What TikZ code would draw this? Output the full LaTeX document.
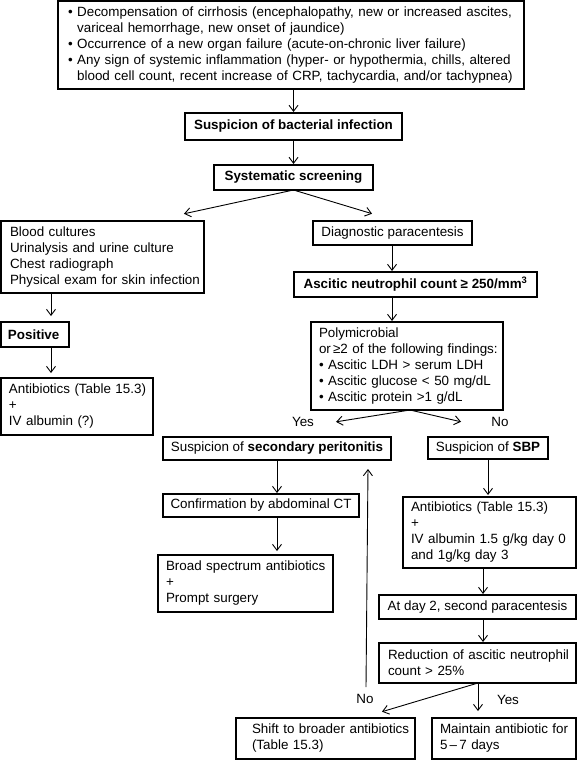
\documentclass[tikz,border=0pt]{standalone}
\usepackage{fontspec}
\setmainfont{Liberation Sans}
\usetikzlibrary{arrows.meta,calc}
\newcommand\mln[1]{\mbox{#1}}
\newcommand\bul{\textbullet\ }
\newcommand\ind{\phantom{\textbullet\ }}
\begin{document}
\begin{tikzpicture}[x=1pt,y=-1pt,
  bx/.style={draw, line width=1.3pt, anchor=north west, outer sep=0pt,
    inner ysep=0pt, font=\fontsize{13.4}{16}\selectfont},
  bl/.style={bx, align=left},
  bc/.style={bx, align=center},
  arr/.style={line width=0.9pt, shorten >=1pt, -{Straight Barb[length=6pt,width=9pt,line width=0.9pt]}},
  lab/.style={font=\fontsize{13.4}{16}\selectfont, inner sep=0pt}]
\useasboundingbox (0,0) rectangle (577,760);

\node[bl, minimum width=466pt, minimum height=88pt, text width=446pt, inner xsep=10pt] (top) at (58,1)
 {\mln{\bul Decompensation of cirrhosis (encephalopathy, new or increased ascites,}\\
  \mln{\ind variceal hemorrhage, new onset of jaundice)}\\
  \mln{\bul Occurrence of a new organ failure (acute-on-chronic liver failure)}\\
  \mln{\bul Any sign of systemic inflammation (hyper- or hypothermia, chills, altered}\\
  \mln{\ind blood cell count, recent increase of CRP, tachycardia, and/or tachypnea)}};

\node[bc, minimum width=217pt, minimum height=27pt] (bact) at (185,113) {\textbf{Suspicion of bacterial infection}};
\node[bc, minimum width=159pt, minimum height=25pt] (screen) at (214,165) {\textbf{Systematic screening}};

\node[bl, minimum width=203pt, minimum height=72pt, text width=185pt, inner xsep=9pt] (list) at (1,221)
 {\mln{Blood cultures}\\ \mln{Urinalysis and urine culture}\\ \mln{Chest radiograph}\\ \mln{Physical exam for skin infection}};
\node[bl, minimum width=68pt, minimum height=25pt, text width=54pt, inner xsep=7pt] (pos) at (1,322) {\textbf{Positive}};
\node[bl, minimum width=152pt, minimum height=57pt, text width=136pt, inner xsep=8pt] (abl) at (1,378)
 {\mln{Antibiotics (Table 15.3)}\\ +\\ \mln{IV albumin (?)}};

\node[bc, minimum width=159pt, minimum height=24pt] (para) at (313,221) {Diagnostic paracentesis};
\node[bc, minimum width=243pt, minimum height=25pt] (asc) at (294,272) {\textbf{Ascitic neutrophil count ≥ 250/mm\textsuperscript{3}}};
\node[bl, minimum width=192pt, minimum height=88pt, text width=176pt, inner xsep=8pt] (poly) at (311,322)
 {\mln{Polymicrobial}\\ \mln{or\,≥2 of the following findings:}\\ \mln{\bul Ascitic LDH > serum LDH}\\
  \mln{\bul Ascitic glucose < 50 mg/dL}\\ \mln{\bul Ascitic protein >1 g/dL}};

\node[bc, minimum width=228pt, minimum height=23pt] (sec) at (163,437) {Suspicion of \textbf{secondary peritonitis}};
\node[bc, minimum width=120pt, minimum height=22pt] (sbp) at (428,437) {Suspicion of \textbf{SBP}};

\node[bc, minimum width=196pt, minimum height=23pt] (ct) at (163,494) {Confirmation by abdominal CT};
\node[bl, minimum width=175pt, minimum height=57pt, text width=159pt, inner xsep=8pt] (broad) at (158,555)
 {\mln{Broad spectrum antibiotics}\\ +\\ \mln{Prompt surgery}};

\node[bl, minimum width=173pt, minimum height=71pt, text width=157pt, inner xsep=8pt] (abr) at (403,497)
 {\mln{Antibiotics (Table 15.3)}\\ +\\ \mln{IV albumin 1.5 g/kg day 0}\\ \mln{and 1g/kg day 3}};
\node[bc, minimum width=197pt, minimum height=24pt] (day2) at (379,595) {At day 2, second paracentesis};
\node[bl, minimum width=197pt, minimum height=40pt, text width=179pt, inner xsep=9pt] (red) at (379,643)
 {\mln{Reduction of ascitic neutrophil}\\ \mln{count > 25\%}};

\node[bl, minimum width=179pt, minimum height=41pt, text width=147pt, inner xsep=16pt] (shift) at (236,718)
 {\mln{Shift to broader antibiotics}\\ \mln{(Table 15.3)}};
\node[bl, minimum width=144pt, minimum height=41pt, text width=128pt, inner xsep=8pt] (main) at (432,718)
 {\mln{Maintain antibiotic for}\\ \mln{5\,–\,7 days}};

% arrows
\coordinate (lA) at (51,293);
\coordinate (pA) at (392,245);
\coordinate (cA) at (277,460);
\coordinate (sA) at (488,460);
\coordinate (dA) at (483,569);
\draw[arr] (bact.north |- top.south) -- (bact.north);
\draw[arr] (bact.south) -- (screen.north);
\coordinate (sL) at (183,214);
\coordinate (sR) at (373,214);
\draw[arr] (screen.south) -- (sL);
\draw[arr] (screen.south) -- (sR);
\draw[arr, shorten >=6pt] (lA |- list.south) -- (lA |- pos.north);
\draw[arr, shorten >=5pt] (lA |- pos.south) -- (lA |- abl.north);
\draw[arr] (pA |- para.south) -- (pA |- asc.north);
\draw[arr] (pA |- asc.south) -- (pA |- poly.north);
\coordinate (pY) at (335,422);
\coordinate (pN) at (462,422);
\coordinate (pS) at (410,410);
\draw[arr] (pS) -- (pY);
\draw[arr] (pS) -- (pN);
\node[lab] (yes1) at (303,422) {Yes};
\node[lab] (no1) at (500,422) {No};
\draw[arr] (cA |- sec.south) -- (cA |- ct.north);
\draw[arr, shorten >=4pt] (cA |- ct.south) -- (cA |- broad.north);
\draw[arr, shorten >=2pt] (sA |- sbp.south) -- (sA |- abr.north);
\draw[arr] (dA |- abr.south) -- (dA |- day2.north);
\draw[arr] (dA |- day2.south) -- (dA |- red.north);
\coordinate (rS) at (478,683);
\coordinate (rN) at (381,712);
\coordinate (rY) at (478,712);
\draw[arr] (rS) -- (rN);
\draw[arr] (rS) -- (rY);
\node[lab] (no2) at (365,699) {No};
\node[lab] (yes2) at (508,700) {Yes};
\coordinate (up0) at (366,687);
\coordinate (up1) at (368,468);
\draw[arr] (up0) -- (up1);
\end{tikzpicture}
\end{document}
